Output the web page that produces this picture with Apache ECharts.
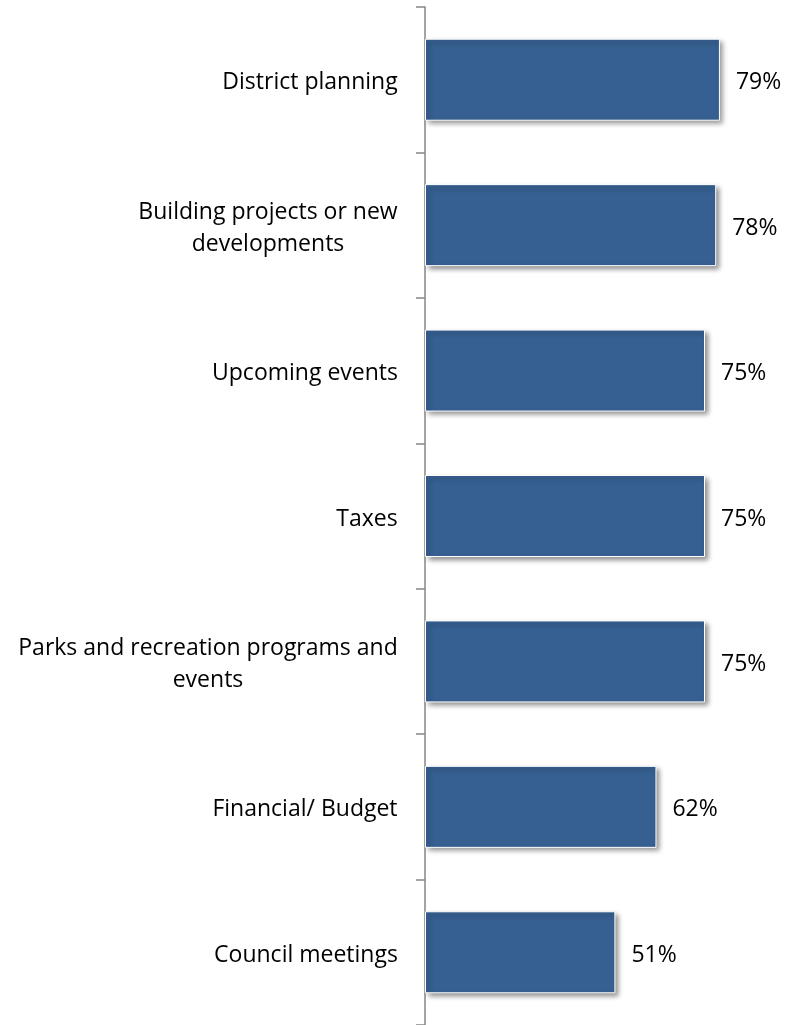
<!DOCTYPE html>
<html>
<head>
<meta charset="utf-8">
<title>Topics</title>
<script src="https://cdn.jsdelivr.net/npm/echarts@6/dist/echarts.min.js"></script>
<style>
  html, body { margin: 0; padding: 0; background: #fff; }
  #chart { width: 792px; height: 1025px; }
</style>
</head>
<body>
<div id="chart"></div>
<script>
// categories top to bottom
var categories = [
    'District planning',
    'Building projects or new\ndevelopments',
    'Upcoming events',
    'Taxes',
    'Parks and recreation programs and\nevents',
    'Financial/ Budget',
    'Council meetings'
];
var values = [79, 78, 75, 75, 75, 62, 51];

var FONT = '"Open Sans", sans-serif';
var FONT_SIZE = 23;

// measure each line so multi-line labels can be centred inside a right-aligned block
var ctx = document.createElement('canvas').getContext('2d');
ctx.font = FONT_SIZE + 'px "Open Sans"';
var rich = {};
categories.forEach(function (c, i) {
    var w = 0;
    c.split('\n').forEach(function (line) {
        w = Math.max(w, ctx.measureText(line).width);
    });
    rich['c' + i] = {
        width: Math.ceil(w),
        align: 'center',
        fontFamily: FONT,
        fontSize: FONT_SIZE,
        color: '#000',
        lineHeight: 32
    };
});

var myChart = echarts.init(document.getElementById('chart'));
myChart.setOption({
    animation: false,
    grid: { left: 425, top: 7, width: 336, height: 1022 },
    xAxis: {
        type: 'value',
        min: 0,
        max: 90,
        show: false
    },
    yAxis: {
        type: 'category',
        inverse: true,
        data: categories,
        axisLine: { show: true, lineStyle: { color: '#868686', width: 1.5 } },
        axisTick: { show: true, inside: false, length: 9, lineStyle: { color: '#868686', width: 1.5 } },
        axisLabel: {
            margin: 27,
            align: 'right',
            padding: [6, 0, 0, 0],
            formatter: function (value, index) {
                return value.split('\n').map(function (line) {
                    return '{c' + index + '|' + line + '}';
                }).join('\n');
            },
            rich: rich
        }
    },
    series: [
        {
            type: 'bar',
            data: values,
            barWidth: 82,
            itemStyle: {
                color: '#366092',
                borderColor: '#ffffff',
                borderWidth: 1,
                shadowBlur: 5,
                shadowOffsetX: 3,
                shadowOffsetY: 3,
                shadowColor: 'rgba(0, 0, 0, 0.45)'
            },
            label: {
                show: true,
                position: 'right',
                distance: 16,
                offset: [0, 3],
                formatter: '{c}%',
                fontFamily: FONT,
                fontSize: FONT_SIZE,
                color: '#000'
            }
        }
    ]
});
</script>
</body>
</html>
